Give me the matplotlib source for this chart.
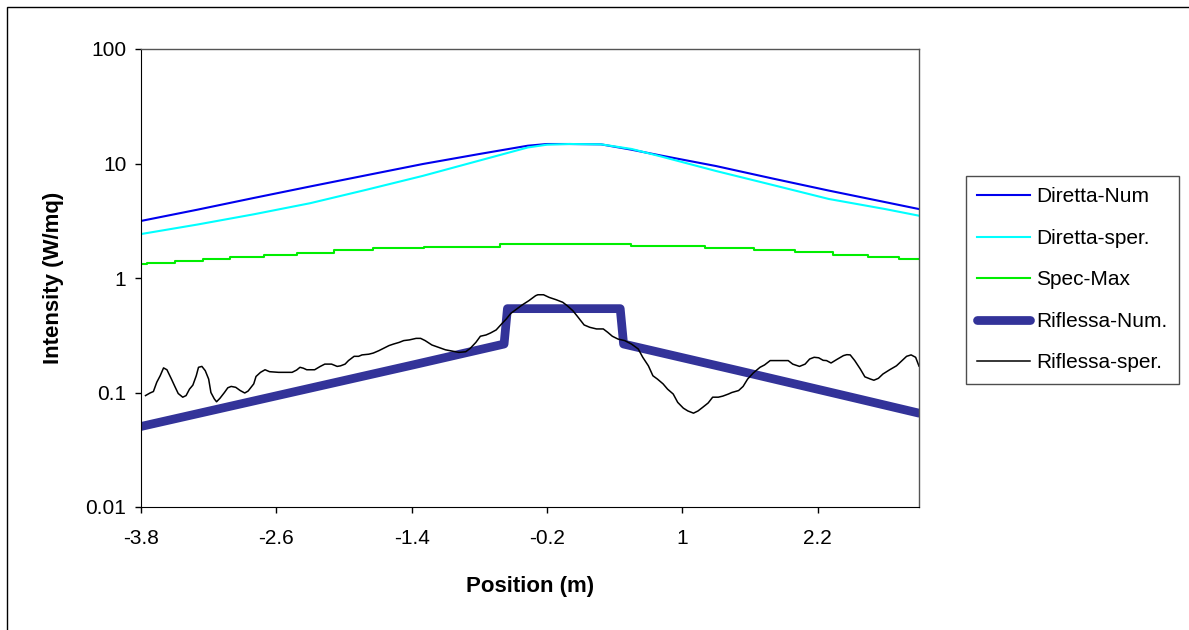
import numpy as np
import matplotlib
matplotlib.use("Agg")
import matplotlib.pyplot as plt
from matplotlib.patches import Rectangle

plt.rcParams['font.family'] = ['Liberation Sans', 'DejaVu Sans']

# Diretta-Num / Diretta-sper. (smooth curves)
x_dir = [-3.8, -3.3, -2.8, -2.3, -1.8, -1.3, -0.8, -0.37, -0.2, 0.0, 0.28, 0.55, 0.8, 1.3, 1.8, 2.3, 2.8, 3.1]
diretta_num = [3.15, 3.95, 5.0, 6.3, 7.9, 9.9, 12.1, 14.3, 14.8, 14.8, 14.7, 13.2, 11.8, 9.5, 7.4, 5.8, 4.6, 4.0]
diretta_sper = [2.42, 2.93, 3.6, 4.5, 5.9, 7.8, 10.6, 13.8, 14.6, 14.8, 14.7, 13.4, 11.6, 8.6, 6.5, 4.9, 4.0, 3.5]

# Spec-Max (step levels)
x_spec = [-3.8, -3.75, -3.5, -3.25, -3.01, -2.71, -2.42, -2.09, -1.74, -1.29, -0.62,
          0.55, 1.2, 1.64, 2.0, 2.34, 2.65, 2.92, 3.1]
spec_max = [1.32, 1.34, 1.40, 1.46, 1.53, 1.59, 1.65, 1.75, 1.82, 1.88, 1.98,
            1.89, 1.82, 1.74, 1.67, 1.60, 1.54, 1.47, 1.47]

# Riflessa-Num.
x_rnum = [-3.8, -2.6, -1.4, -0.58, -0.55, 0.45, 0.48, 1.5, 2.5, 3.1]
rifl_num = [0.0505, 0.0935, 0.173, 0.265, 0.54, 0.54, 0.265, 0.155, 0.091, 0.066]

# Riflessa-sper.
x_rsp = [-3.76, -3.72, -3.69, -3.66, -3.63, -3.60, -3.57, -3.53, -3.50, -3.47,
         -3.43, -3.40, -3.37, -3.34, -3.31, -3.29, -3.26, -3.23, -3.20, -3.18,
         -3.15, -3.13, -3.10, -3.06, -3.03, -3.00, -2.96, -2.92, -2.88, -2.85,
         -2.80, -2.78, -2.74, -2.70, -2.66, -2.58, -2.46, -2.42, -2.39, -2.36,
         -2.33, -2.26, -2.21, -2.17, -2.11, -2.06, -2.03, -1.99, -1.96, -1.91,
         -1.87, -1.84, -1.78, -1.74, -1.69, -1.65, -1.60, -1.56, -1.51, -1.47,
         -1.42, -1.36, -1.32, -1.28, -1.22, -1.16, -1.10, -1.04, -0.98, -0.92,
         -0.88, -0.83, -0.79, -0.74, -0.70, -0.65, -0.61, -0.56, -0.52, -0.46,
         -0.42, -0.36, -0.30, -0.28, -0.23, -0.18, -0.12, -0.06, -0.02, 0.03,
         0.07, 0.10, 0.13, 0.18, 0.24, 0.30, 0.34, 0.38, 0.43, 0.49,
         0.55, 0.61, 0.65, 0.70, 0.74, 0.78, 0.83, 0.87, 0.92, 0.96,
         1.01, 1.05, 1.10, 1.14, 1.18, 1.23, 1.27, 1.32, 1.36, 1.41,
         1.44, 1.50, 1.54, 1.58, 1.63, 1.69, 1.73, 1.78, 1.84, 1.94,
         1.98, 2.04, 2.09, 2.13, 2.17, 2.21, 2.25, 2.28, 2.32, 2.37,
         2.43, 2.46, 2.49, 2.53, 2.58, 2.62, 2.67, 2.70, 2.74, 2.78,
         2.84, 2.90, 2.95, 2.99, 3.03, 3.07, 3.10]
rifl_sper = [0.094, 0.099, 0.102, 0.123, 0.140, 0.164, 0.158, 0.131, 0.113, 0.098,
             0.091, 0.094, 0.107, 0.116, 0.140, 0.166, 0.169, 0.155, 0.131, 0.100,
             0.088, 0.083, 0.089, 0.100, 0.110, 0.113, 0.111, 0.104, 0.099, 0.103,
             0.119, 0.138, 0.150, 0.158, 0.152, 0.150, 0.150, 0.157, 0.166, 0.163,
             0.158, 0.158, 0.169, 0.177, 0.177, 0.169, 0.171, 0.177, 0.190, 0.207,
             0.207, 0.213, 0.216, 0.221, 0.232, 0.243, 0.257, 0.265, 0.274, 0.284,
             0.288, 0.297, 0.297, 0.284, 0.260, 0.248, 0.236, 0.230, 0.224, 0.227,
             0.243, 0.274, 0.310, 0.318, 0.331, 0.352, 0.389, 0.439, 0.491, 0.543,
             0.581, 0.634, 0.701, 0.714, 0.714, 0.677, 0.647, 0.614, 0.573, 0.518,
             0.463, 0.424, 0.389, 0.371, 0.359, 0.359, 0.335, 0.310, 0.293, 0.284,
             0.265, 0.240, 0.203, 0.171, 0.140, 0.131, 0.119, 0.107, 0.097, 0.082,
             0.073, 0.069, 0.066, 0.069, 0.074, 0.081, 0.091, 0.091, 0.093, 0.097,
             0.100, 0.104, 0.113, 0.131, 0.148, 0.166, 0.174, 0.190, 0.190, 0.190,
             0.177, 0.169, 0.177, 0.196, 0.203, 0.201, 0.191, 0.190, 0.181, 0.194,
             0.210, 0.214, 0.213, 0.190, 0.160, 0.137, 0.131, 0.128, 0.133, 0.145,
             0.158, 0.171, 0.190, 0.207, 0.213, 0.203, 0.170]

xticks = [-3.8, -2.6, -1.4, -0.2, 1, 2.2]
xticklabels = ["-3.8", "-2.6", "-1.4", "-0.2", "1", "2.2"]
yticks = [0.01, 0.1, 1, 10, 100]
yticklabels = ["0.01", "0.1", "1", "10", "100"]

fig = plt.figure(figsize=(11.89, 6.3), dpi=100)
ax = fig.add_axes([141 / 1189, 1 - 507 / 630, 778 / 1189, 458 / 630])

ax.plot(x_dir, diretta_num, color='#0000EE', lw=1.5, label='Diretta-Num')
ax.plot(x_dir, diretta_sper, color='#00FFFF', lw=1.5, label='Diretta-sper.')
ax.plot(x_spec, spec_max, color='#00EE00', lw=1.5, drawstyle='steps-post', label='Spec-Max')
ax.plot(x_rnum, rifl_num, color='#333399', lw=6.3, solid_capstyle='round', label='Riflessa-Num.')
ax.plot(x_rsp, rifl_sper, color='black', lw=1.1, label='Riflessa-sper.')

ax.set_yscale('log')
ax.set_ylim(0.01, 100)
ax.set_xlim(-3.8, 3.1)
ax.set_xticks(xticks)
ax.set_xticklabels(xticklabels)
ax.set_yticks(yticks)
ax.set_yticklabels(yticklabels)
ax.yaxis.set_minor_locator(matplotlib.ticker.NullLocator())
ax.tick_params(axis='both', direction='out', length=4.5, width=1, labelsize=15)
ax.tick_params(axis='x', pad=11)
ax.tick_params(axis='y', pad=6)

for s in ['top', 'right']:
    ax.spines[s].set_color('#555555')
    ax.spines[s].set_linewidth(1)

ax.set_xlabel('Position (m)', fontsize=16, fontweight='bold')
ax.set_ylabel('Intensity (W/mq)', fontsize=16, fontweight='bold')
ax.xaxis.set_label_coords(0.5, -0.1725)
ax.xaxis.label.set_va('center')
ax.yaxis.set_label_coords(-0.113, 0.5)
ax.yaxis.label.set_va('center')

leg = fig.legend(loc='upper left', bbox_to_anchor=(966 / 1189, 1 - 176 / 630),
                 fontsize=15, frameon=True, fancybox=False, edgecolor='#222222',
                 handlelength=2.5, labelspacing=1.08, borderpad=0.55, handletextpad=0.3,
                 borderaxespad=0)
leg.get_frame().set_linewidth(1)

# outer chart border
fig.patches.append(Rectangle((7 / 1189, -0.1), 1.2, 1 - 7 / 630 + 0.1, transform=fig.transFigure,
                             fill=False, edgecolor='black', lw=1))

fig.savefig('out.png', dpi=100)
